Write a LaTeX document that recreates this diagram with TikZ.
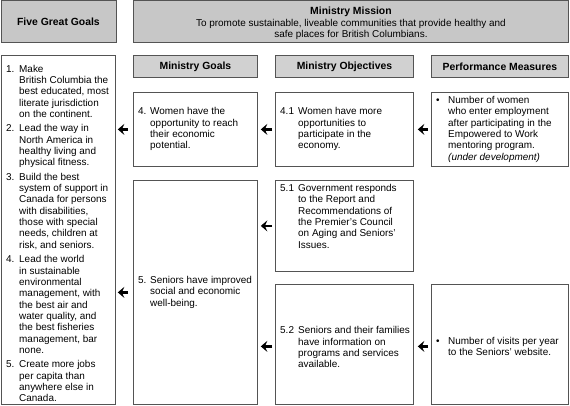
\documentclass[tikz,border=0pt]{standalone}
\usepackage{fontspec}
\setmainfont{Liberation Sans}
\usetikzlibrary{arrows.meta,calc}
\definecolor{bordc}{gray}{0.33}
\definecolor{headc}{gray}{0.78}
\definecolor{colhc}{gray}{0.82}
\newcommand\lbl[2]{\makebox[#1][l]{#2}}
\newcommand\ind[1]{\hspace*{#1}}
\begin{document}
\begin{tikzpicture}[x=1pt,y=-1pt,
  box/.style={draw=bordc, line width=0.8pt, fill=white, anchor=north west, inner sep=0pt},
  head/.style={draw=bordc, line width=0.9pt, fill=headc, anchor=north west, inner sep=0pt,
    align=center, font=\fontsize{10.4}{12}\selectfont\bfseries},
  colhead/.style={head, fill=colhc},
  txt/.style={inner sep=0pt, align=left, anchor=west, font=\fontsize{9.95}{11.35}\selectfont},
  arr/.style={-{Stealth[length=6.5pt,width=11pt,inset=2.4pt]}, line width=2.8pt, black}
]
\useasboundingbox (0,0) rectangle (570,406);
\fill[white] (0,0) rectangle (570,406);

% top headers
\node[head, minimum width=115pt, minimum height=42pt] (fgg) at (0.5,0.5) {Five Great Goals};
\node[head, minimum width=435pt, minimum height=42pt] (mm) at (133,0.5) {};
\node[inner sep=0pt, align=center, font=\fontsize{9.95}{11.4}\selectfont] (mmt) at ([yshift=-1.5pt]mm.center)
  {\textbf{\fontsize{10.4}{11.4}\selectfont Ministry Mission}\\
   To promote sustainable, liveable communities that provide healthy and\\
   safe places for British Columbians.};

% column headers
\node[colhead, minimum width=124pt, minimum height=22pt] (mg) at (133,55) {Ministry Goals};
\node[colhead, minimum width=138pt, minimum height=22pt] (mo) at (275,55) {Ministry Objectives};
\node[colhead, minimum width=137pt, minimum height=22pt] (pm) at (431,55) {Performance Measures};

% boxes
\node[box, minimum width=114pt, minimum height=349pt] (left) at (1,55) {};
\node[box, minimum width=124pt, minimum height=74pt] (g4) at (133,92) {};
\node[box, minimum width=124pt, minimum height=224pt] (g5) at (133,180) {};
\node[box, minimum width=138pt, minimum height=74pt] (o41) at (275,92) {};
\node[box, minimum width=138pt, minimum height=91pt] (o51) at (275,180) {};
\node[box, minimum width=138pt, minimum height=120pt] (o52) at (275,284) {};
\node[box, minimum width=137pt, minimum height=74pt] (p1) at (431,92) {};
\node[box, minimum width=137pt, minimum height=120pt] (p2) at (431,284) {};

% texts
\node[txt] (leftt) at ([xshift=5pt,yshift=-3.5pt]left.west) {%
\lbl{13pt}{1.}Make\\
\ind{13pt}British Columbia the\\
\ind{13pt}best educated, most\\
\ind{13pt}literate jurisdiction\\
\ind{13pt}on the continent.\\[3pt]
\lbl{13pt}{2.}Lead the way in\\
\ind{13pt}North America in\\
\ind{13pt}healthy living and\\
\ind{13pt}physical fitness.\\[3pt]
\lbl{13pt}{3.}Build the best\\
\ind{13pt}system of support in\\
\ind{13pt}Canada for persons\\
\ind{13pt}with disabilities,\\
\ind{13pt}those with special\\
\ind{13pt}needs, children at\\
\ind{13pt}risk, and seniors.\\[3pt]
\lbl{13pt}{4.}Lead the world\\
\ind{13pt}in sustainable\\
\ind{13pt}environmental\\
\ind{13pt}management, with\\
\ind{13pt}the best air and\\
\ind{13pt}water quality, and\\
\ind{13pt}the best fisheries\\
\ind{13pt}management, bar\\
\ind{13pt}none.\\[3pt]
\lbl{13pt}{5.}Create more jobs\\
\ind{13pt}per capita than\\
\ind{13pt}anywhere else in\\
\ind{13pt}Canada.};

\node[txt] (g4t) at ([xshift=5pt]g4.west) {%
\lbl{12pt}{4.}Women have the\\
\ind{12pt}opportunity to reach\\
\ind{12pt}their economic\\
\ind{12pt}potential.};

\node[txt] (g5t) at ([xshift=5pt]g5.west) {%
\lbl{12pt}{5.}Seniors have improved\\
\ind{12pt}social and economic\\
\ind{12pt}well-being.};

\node[txt] (o41t) at ([xshift=5pt]o41.west) {%
\lbl{18pt}{4.1}Women have more\\
\ind{18pt}opportunities to\\
\ind{18pt}participate in the\\
\ind{18pt}economy.};

\node[txt, anchor=north west] (o51t) at ([xshift=5pt,yshift=-4pt]o51.north west) {%
\lbl{18pt}{5.1}Government responds\\
\ind{18pt}to the Report and\\
\ind{18pt}Recommendations of\\
\ind{18pt}the Premier's Council\\
\ind{18pt}on Aging and Seniors'\\
\ind{18pt}Issues.};

\node[txt] (o52t) at ([xshift=5pt,yshift=-3pt]o52.west) {%
\lbl{18pt}{5.2}Seniors and their families\\
\ind{18pt}have information on\\
\ind{18pt}programs and services\\
\ind{18pt}available.};

\node[txt] (p1t) at ([xshift=5pt]p1.west) {%
\lbl{12pt}{•}Number of women\\
\ind{12pt}who enter employment\\
\ind{12pt}after participating in the\\
\ind{12pt}Empowered to Work\\
\ind{12pt}mentoring program.\\
\ind{12pt}\textit{(under development)}};

\node[txt] (p2t) at ([xshift=5pt,yshift=-2pt]p2.west) {%
\lbl{12pt}{•}Number of visits per year\\
\ind{12pt}to the Seniors' website.};

% arrows
\draw[arr] ([xshift=-5pt]g4.west) -- ([xshift=2pt]g4.west -| left.east);
\draw[arr] ([xshift=-5pt]g5.west) -- ([xshift=2pt]g5.west -| left.east);
\draw[arr] ([xshift=-3pt]o41.west) -- ([xshift=3pt]o41.west -| g4.east);
\draw[arr] ([xshift=-3pt]o51.west) -- ([xshift=3pt]o51.west -| g5.east);
\draw[arr] ([xshift=-3pt,yshift=-2pt]o52.west) -- ([xshift=3pt,yshift=-2pt]o52.west -| g5.east);
\draw[arr] ([xshift=-3pt]p1.west) -- ([xshift=4pt]p1.west -| o41.east);
\draw[arr] ([xshift=-3pt,yshift=-2pt]p2.west) -- ([xshift=4pt,yshift=-2pt]p2.west -| o52.east);
\end{tikzpicture}
\end{document}
